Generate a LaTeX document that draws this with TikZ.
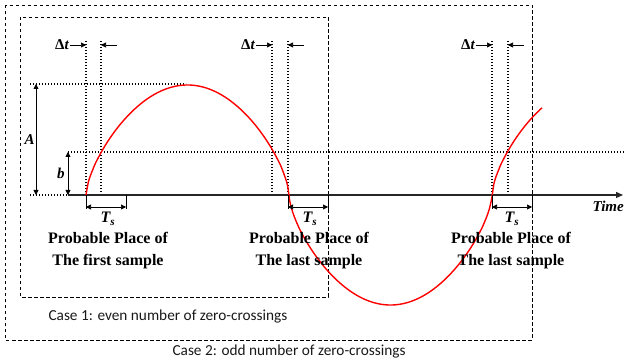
\documentclass[tikz,border=0pt]{standalone}
\usepackage{fontspec}
\setmainfont{Liberation Serif}
\newfontfamily\casefont{Carlito}
\usepackage{tikz}
\usetikzlibrary{arrows.meta,positioning,calc}

\begin{document}
\begin{tikzpicture}[x=1pt, y=-1pt,
    box/.style={draw, dashed, line width=0.7pt, dash pattern=on 3.5pt off 2.5pt},
    guide/.style={line width=1.1pt, dash pattern=on 1.1pt off 1.9pt},
    arr/.style={-{Triangle[length=5pt, width=5pt]}, semithick},
    dim/.style={{Triangle[length=5pt, width=5pt]}-{Triangle[length=5pt, width=5pt]}, semithick},
    lbl/.style={font=\bfseries\fontsize{16}{22}\selectfont, align=center},
    sym/.style={font=\bfseries\itshape\fontsize{15}{18}\selectfont, inner sep=1pt},
    casetxt/.style={font=\casefont\fontsize{15.3}{18}\selectfont, anchor=west, text=black!90}
]
    \useasboundingbox (0,0) rectangle (625,363);

    % Case boxes
    \draw[box] (5,5) rectangle (532,340);
    \draw[box] (20,17) rectangle (328,297);
    \node[casetxt] (case1) at (45,317) {Case 1: even number of zero-crossings};
    \node[casetxt] (case2) at (169,352) {Case 2: odd number of zero-crossings};

    % Crossing points on the time axis
    \coordinate (l1) at (86,195);  \coordinate (r1) at (101,195);  \coordinate (e1) at (126,195);
    \coordinate (l2) at (272,195); \coordinate (r2) at (288,195);  \coordinate (e2) at (328,195);
    \coordinate (l3) at (492,195); \coordinate (r3) at (508,195);  \coordinate (e3) at (532,195);

    % Level guides
    \draw[guide] (30,84) -- (186,84);
    \draw[guide] (68,152) -- (625,152);
    \draw[guide] (30,195) -- (183,195);
    \draw[guide] (l1) -- ++(0,-155) (r1) -- ++(0,-155);
    \draw[guide] (l2) -- ++(0,-155) (r2) -- ++(0,-155);
    \draw[guide] (l3) -- ++(0,-155) (r3) -- ++(0,-155);

    % Time axis
    \coordinate (t0) at (68,195);
    \coordinate (t1) at (623,195);
    \draw[-{Triangle[length=7pt, width=6pt]}, line width=1.3pt, black!85] (t0) -- (t1);
    \node[sym, anchor=east] (time) at (625,206) {Time};

    % Amplitude and threshold
    \coordinate (atop) at (36,84);  \coordinate (abot) at (36,195);
    \coordinate (btop) at (68,152); \coordinate (bbot) at (68,195);
    \draw[dim, thick] (atop) -- (abot) node[sym, midway, left] (alab) {A};
    \draw[dim, thick] (btop) -- (bbot) node[sym, midway, left=2pt] (blab) {b};

    % Signal
    \draw[red, line width=1.4pt] plot[domain=86:542, samples=200, smooth]
        (\x, {195 - 110*sign(sin((\x-86)/203*180))*pow(abs(sin((\x-86)/203*180))+0.0001,0.65)});

    % Delta t markers
    \node[sym, anchor=east] (dt1) at (70,45) {{\upshape Δ}t};
    \node[sym, anchor=east] (dt2) at (256,45) {{\upshape Δ}t};
    \node[sym, anchor=east] (dt3) at (476,45) {{\upshape Δ}t};
    \coordinate (q1) at (117,45); \coordinate (q2) at (304,45); \coordinate (q3) at (524,45);
    \draw[arr] (dt1.east) -- (dt1.east -| l1);
    \draw[arr] (q1) -- (q1 -| r1);
    \draw[arr] (dt2.east) -- (dt2.east -| l2);
    \draw[arr] (q2) -- (q2 -| r2);
    \draw[arr] (dt3.east) -- (dt3.east -| l3);
    \draw[arr] (q3) -- (q3 -| r3);

    % Sampling period brackets
    \draw[thick] (l1) -- ++(0,14) (e1) -- ++(0,14);
    \draw[thick] (r2) -- ++(0,14) (e2) -- ++(0,14);
    \draw[thick] (l3) -- ++(0,14) (e3) -- ++(0,14);
    \draw[dim] ([yshift=-12pt]l1) -- ([yshift=-12pt]e1);
    \draw[dim] ([yshift=-12pt]r2) -- ([yshift=-12pt]e2);
    \draw[dim] ([yshift=-12pt]l3) -- ([yshift=-12pt]e3);
    \node[sym, font=\bfseries\itshape\fontsize{16}{18}\selectfont] (ts1) at (108,219) {T\textsubscript{s}};
    \node[sym, font=\bfseries\itshape\fontsize{16}{18}\selectfont] (ts2) at (310,219) {T\textsubscript{s}};
    \node[sym, font=\bfseries\itshape\fontsize{16}{18}\selectfont] (ts3) at (512,219) {T\textsubscript{s}};

    % Sample places
    \node[lbl] (place1) at (108,251) {Probable Place of\\The first sample};
    \node[lbl] (place2) at (309,251) {Probable Place of\\The last sample};
    \node[lbl] (place3) at (511,251) {Probable Place of\\The last sample};
\end{tikzpicture}
\end{document}
